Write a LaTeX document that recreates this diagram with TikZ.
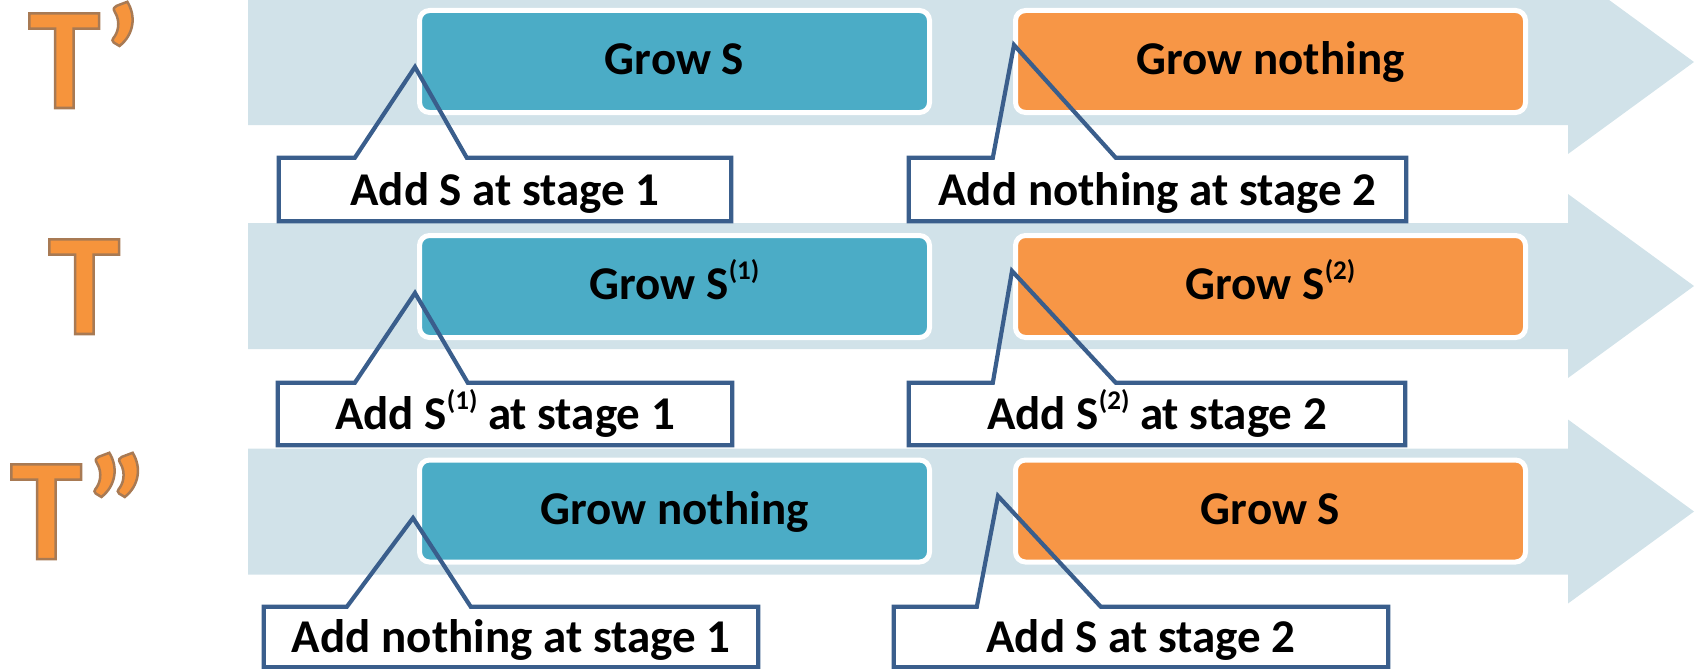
\documentclass[tikz,border=0pt]{standalone}
\usepackage{fontspec}
\setmainfont{Carlito}
\usetikzlibrary{calc}

\definecolor{bandblue}{RGB}{209,226,233}
\definecolor{stageone}{RGB}{75,172,198}
\definecolor{stagetwo}{RGB}{247,150,70}
\definecolor{calloutedge}{RGB}{58,94,140}
\definecolor{letterfill}{RGB}{246,148,60}

% raised index such as (1) after S
\newcommand\supidx[1]{\raisebox{20pt}{\fontsize{27}{27}\selectfont #1}}
% filled glyphs with a thin brown contour (text render mode 2)
\newcommand\edgedtext[1]{\special{pdf:literal direct 2 Tr 2.5 w 0.66 0.48 0.33 RG}#1\special{pdf:literal direct 0 Tr}}

\begin{document}
\begin{tikzpicture}[x=1pt,y=-1pt,
  stagebox/.style={rectangle, rounded corners=10pt, draw=white, line width=5pt,
    minimum width=510pt, minimum height=102pt, inner sep=0pt,
    text height=32pt, text depth=6pt, font=\fontsize{47}{47}\selectfont\bfseries},
  noteblock/.style={rectangle, fill=white, inner sep=0pt,
    text height=35pt, text depth=4pt, font=\fontsize{47}{47}\selectfont\bfseries},
  noteedge/.style={draw=calloutedge, line width=4.2pt},
  treelabel/.style={anchor=base west, inner sep=0pt, text=letterfill,
    font=\fontsize{146}{146}\selectfont\bfseries},
]
\useasboundingbox (0,0) rectangle (1702,669);

% three light process arrows
\foreach \c in {62,286,511.5}
  \fill[bandblue] (248,{\c-63}) -- (1568,{\c-63}) -- (1568,{\c-92}) -- (1694,\c)
    -- (1568,{\c+92}) -- (1568,{\c+63}) -- (248,{\c+63}) -- cycle;

% stage boxes
\node[stagebox, fill=stageone] (g1a) at (674.5,61.5)  {Grow S};
\node[stagebox, fill=stagetwo] (g1b) at (1270.5,61.5) {Grow nothing};
\node[stagebox, fill=stageone] (g2a) at (674.5,286.5)  {Grow S\supidx{(1)}};
\node[stagebox, fill=stagetwo] (g2b) at (1270.5,286.5) {Grow S\supidx{(2)}};
\node[stagebox, fill=stageone] (g3a) at (674.5,511)  {Grow nothing};
\node[stagebox, fill=stagetwo] (g3b) at (1270.5,511) {Grow S};

% callout bodies
\node[noteblock, minimum width=452pt, minimum height=63pt] (n1a) at (505,189.5)  {Add S at stage 1};
\node[noteblock, minimum width=497pt, minimum height=63pt] (n1b) at (1157.5,189.5) {Add nothing at stage 2};
\node[noteblock, minimum width=454pt, minimum height=62pt] (n2a) at (505,414)  {Add S\supidx{(1)} at stage 1};
\node[noteblock, minimum width=496pt, minimum height=62pt] (n2b) at (1157,414) {Add S\supidx{(2)} at stage 2};
\node[noteblock, minimum width=494pt, minimum height=60pt] (n3a) at (511,637)  {Add nothing at stage 1};
\node[noteblock, minimum width=494pt, minimum height=60pt] (n3b) at (1141,637) {Add S at stage 2};

% callout pointer tips
\coordinate (p1a) at (415,67);
\coordinate (p1b) at (1014,45);
\coordinate (p2a) at (415,293);
\coordinate (p2b) at (1012,271);
\coordinate (p3a) at (413,518);
\coordinate (p3b) at (998,496);

% callout outlines with their pointers
\foreach \n/\l/\r in {1a/76/188, 1b/84/207, 2a/77/190, 2b/84/207, 3a/83/207, 3b/83/207}
  \draw[noteedge] (n\n.north west) -- ([xshift=\l pt]n\n.north west) -- (p\n)
    -- ([xshift=\r pt]n\n.north west) -- (n\n.north east) -- (n\n.south east)
    -- (n\n.south west) -- cycle;

% tree names
\node[treelabel] (tprime)  at (28,108) {\edgedtext{T’}};
\node[treelabel] (tplain)  at (48,334) {\edgedtext{T}};
\node[treelabel] (tdouble) at (10,559) {\edgedtext{T”}};
\end{tikzpicture}
\end{document}
